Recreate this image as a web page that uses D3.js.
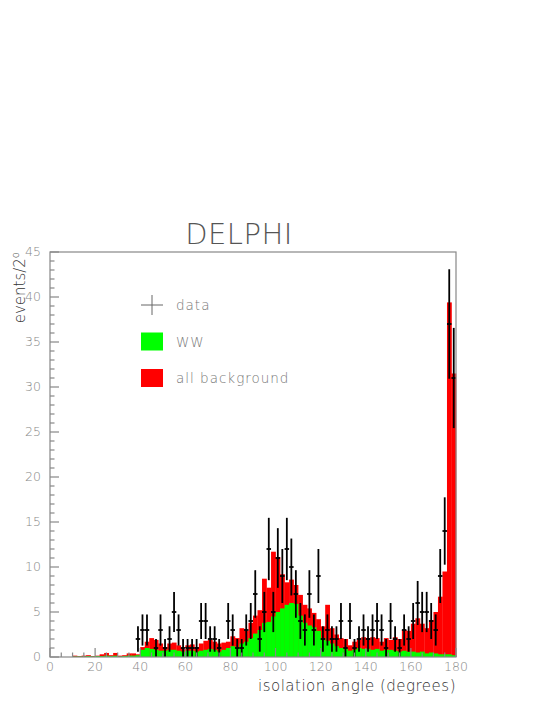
<!DOCTYPE html>
<html>
<head>
<meta charset="utf-8">
<script src="https://cdn.jsdelivr.net/npm/d3@7"></script>
<style>
  body { margin: 0; background: #fff; }
  svg { display: block; }
  text { font-family: "DejaVu Sans", sans-serif; font-weight: 200; fill: #666; }
</style>
</head>
<body>
<div id="chart"></div>
<script>
// 2-degree bins from 0 to 180 (left edges)
const binStarts = d3.range(0, 180, 2);

// all background (total, drawn in red)
const bgValues = [
  0, 0, 0, 0, 0, 0.15, 0.1, 0.15, 0.2, 0.1,
  0.15, 0.3, 0.45, 0.2, 0.45, 0.15, 0.2, 0.4, 0.4, 0.3,
  1.1, 1.7, 2.1, 1.9, 1.5, 1.1, 1.5, 1.6, 1.3, 1.0,
  1.3, 1.4, 1.1, 1.5, 1.8, 1.9, 1.7, 1.5, 1.6, 1.7,
  2.3, 2.1, 3.2, 2.9, 3.8, 4.6, 5.2, 8.7, 7.7, 11.7,
  11.1, 9.2, 8.3, 8.6, 8.0, 6.9, 5.8, 5.4, 4.9, 4.2,
  3.4, 5.8, 3.2, 2.5, 2.1, 2.0, 1.3, 1.7, 1.9, 2.2,
  2.1, 2.2, 2.1, 1.7, 2.1, 1.9, 2.2, 2.0, 3.0, 2.9,
  3.7, 4.3, 3.7, 3.2, 4.1, 5.0, 6.7, 9.5, 39.4, 31.5
];

// WW (drawn in green)
const wwValues = [
  0, 0, 0, 0, 0, 0.05, 0.05, 0.05, 0.1, 0.05,
  0.1, 0.1, 0.15, 0.1, 0.15, 0.05, 0.1, 0.15, 0.15, 0.2,
  0.8, 1.0, 0.9, 0.8, 0.7, 0.7, 0.8, 0.8, 0.7, 0.6,
  0.7, 0.7, 0.6, 0.7, 0.8, 0.9, 0.8, 0.6, 0.8, 1.0,
  1.2, 1.1, 1.5, 1.7, 2.1, 2.6, 3.0, 3.8, 3.9, 4.5,
  5.0, 5.4, 5.8, 6.0, 5.9, 4.6, 3.8, 3.5, 3.3, 2.9,
  2.1, 1.8, 1.5, 1.2, 1.0, 0.9, 0.7, 0.8, 1.0, 0.9,
  0.9, 0.8, 0.9, 0.7, 0.8, 0.8, 0.7, 0.6, 0.7, 0.6,
  0.6, 0.5, 0.6, 0.4, 0.5, 0.4, 0.3, 0.3, 0.3, 0.2
];

// observed events per bin
const dataCounts = [
  0, 0, 0, 0, 0, 0, 0, 0, 0, 0,
  0, 0, 0, 0, 0, 0, 0, 0, 0, 2,
  3, 3, 0, 1, 3, 1, 2, 5, 3, 1,
  1, 1, 1, 4, 4, 2, 2, 1, 0, 4,
  3, 1, 1, 3, 4, 7, 2, 5, 12, 5,
  11, 9, 12, 10, 7, 4, 3, 7, 3, 9,
  2, 3, 2, 2, 4, 1, 4, 1, 2, 3,
  2, 3, 4, 3, 1, 4, 2, 1, 3, 2,
  4, 6, 5, 5, 4, 3, 9, 14, 37, 31
];

const xTicks = [0, 20, 40, 60, 80, 100, 120, 140, 160, 180];
const yTicks = [0, 5, 10, 15, 20, 25, 30, 35, 40, 45];

const legendItems = [
  { label: "data", kind: "cross" },
  { label: "WW", kind: "box", color: "#00ff00" },
  { label: "all background", kind: "box", color: "#ff0000" }
];

const width = 547, height = 708;
const margin = { left: 50, right: 91, top: 252, bottom: 51 };
const binW = 2;

const svg = d3.select("#chart").append("svg")
  .attr("width", width)
  .attr("height", height);

const x = d3.scaleLinear().domain([0, 180]).range([margin.left, width - margin.right]);
const y = d3.scaleLinear().domain([0, 45]).range([height - margin.bottom, margin.top]);

const bins = binStarts.map((b, i) => ({
  start: b, bg: bgValues[i], ww: wwValues[i], n: dataCounts[i]
}));

// red: all background
svg.append("g").selectAll("rect")
  .data(bins.filter(d => d.bg > 0))
  .join("rect")
  .attr("x", d => x(d.start))
  .attr("width", d => x(d.start + binW) - x(d.start) + 0.3)
  .attr("y", d => y(d.bg))
  .attr("height", d => y(0) - y(d.bg))
  .attr("fill", "#ff0000");

// green: WW
svg.append("g").selectAll("rect")
  .data(bins.filter(d => d.ww > 0))
  .join("rect")
  .attr("x", d => x(d.start))
  .attr("width", d => x(d.start + binW) - x(d.start) + 0.3)
  .attr("y", d => y(d.ww))
  .attr("height", d => y(0) - y(d.ww))
  .attr("fill", "#00ff00");

// data points with sqrt(n) errors
const pts = svg.append("g")
  .attr("stroke", "#000")
  .attr("stroke-width", 1.8)
  .selectAll("g")
  .data(bins.filter(d => d.n > 0))
  .join("g");

pts.append("line")
  .attr("x1", d => x(d.start + binW / 2))
  .attr("x2", d => x(d.start + binW / 2))
  .attr("y1", d => y(d.n + Math.sqrt(d.n)))
  .attr("y2", d => y(Math.max(0, d.n - Math.sqrt(d.n))));

pts.append("line")
  .attr("x1", d => x(d.start))
  .attr("x2", d => x(d.start + binW))
  .attr("y1", d => y(d.n))
  .attr("y2", d => y(d.n));

// frame
const axisColor = "#888";
svg.append("rect")
  .attr("x", x(0))
  .attr("y", y(45))
  .attr("width", x(180) - x(0))
  .attr("height", y(0) - y(45))
  .attr("fill", "none")
  .attr("stroke", axisColor)
  .attr("stroke-width", 1.2);

// x axis: ticks pointing inward
const xAxis = svg.append("g")
  .attr("transform", `translate(0,${y(0)})`);
xAxis.selectAll("line")
  .data(d3.range(0, 181, 5))
  .join("line")
  .attr("x1", d => x(d))
  .attr("x2", d => x(d))
  .attr("y1", 0)
  .attr("y2", d => xTicks.includes(d) ? -9 : -4.5)
  .attr("stroke", axisColor)
  .attr("stroke-width", 1.2);
xAxis.selectAll("text")
  .data(xTicks)
  .join("text")
  .attr("x", d => x(d))
  .attr("y", 14)
  .attr("text-anchor", "middle")
  .style("font-size", "12.5px")
  .style("fill", "#888")
  .text(d => d);

// y axis
const yAxis = svg.append("g")
  .attr("transform", `translate(${x(0)},0)`);
yAxis.selectAll("line")
  .data(d3.range(0, 46, 1))
  .join("line")
  .attr("x1", 0)
  .attr("x2", d => yTicks.includes(d) ? 9 : 4.5)
  .attr("y1", d => y(d))
  .attr("y2", d => y(d))
  .attr("stroke", axisColor)
  .attr("stroke-width", 1.2);
yAxis.selectAll("text")
  .data(yTicks)
  .join("text")
  .attr("x", -9)
  .attr("y", d => y(d) + 4)
  .attr("text-anchor", "end")
  .style("font-size", "12.5px")
  .style("fill", "#888")
  .text(d => d);

// title
svg.append("text")
  .attr("x", 239)
  .attr("y", 244)
  .attr("text-anchor", "middle")
  .style("font-size", "29px")
  .style("letter-spacing", "0.5px")
  .style("fill", "#555")
  .text("DELPHI");

// axis titles
svg.append("text")
  .attr("transform", `translate(25,${y(45)}) rotate(-90)`)
  .attr("text-anchor", "end")
  .style("font-size", "15px")
  .style("fill", "#333")
  .html('events/2<tspan dy="-6" font-size="10px">o</tspan>');

svg.append("text")
  .attr("x", x(180))
  .attr("y", 691)
  .attr("text-anchor", "end")
  .style("font-size", "15px")
  .style("letter-spacing", "0.5px")
  .style("fill", "#333")
  .text("isolation angle (degrees)");

// legend
const legend = svg.append("g");
const lg = legend.selectAll("g")
  .data(legendItems)
  .join("g")
  .attr("transform", (d, i) => `translate(141,${305 + i * 36.5})`);

lg.filter(d => d.kind === "cross").each(function () {
  const g = d3.select(this);
  g.append("line").attr("x1", 0).attr("x2", 22).attr("y1", 0).attr("y2", 0)
    .attr("stroke", "#666").attr("stroke-width", 1);
  g.append("line").attr("x1", 11).attr("x2", 11).attr("y1", -10).attr("y2", 10)
    .attr("stroke", "#666").attr("stroke-width", 1);
});
lg.filter(d => d.kind === "box").append("rect")
  .attr("x", 0).attr("y", -9).attr("width", 22).attr("height", 18)
  .attr("fill", d => d.color);

lg.append("text")
  .attr("x", 35)
  .attr("y", 5)
  .style("font-size", "13.5px")
  .style("letter-spacing", "1px")
  .style("fill", "#777")
  .text(d => d.label);
</script>
</body>
</html>
